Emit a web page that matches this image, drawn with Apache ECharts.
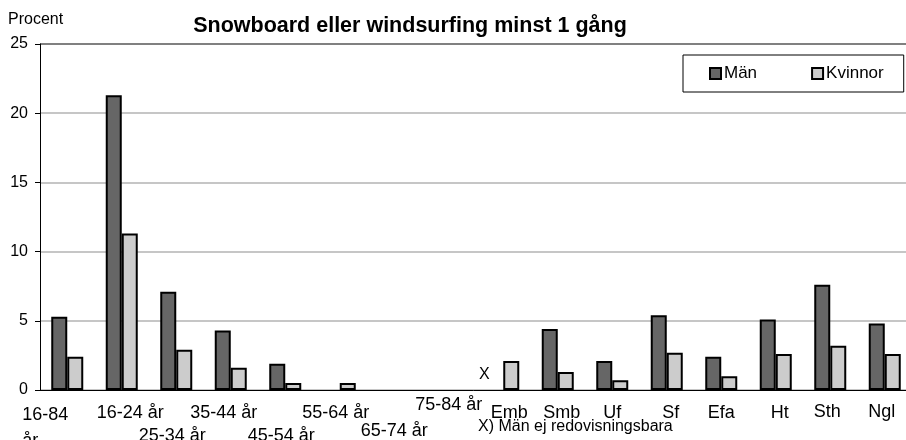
<!DOCTYPE html>
<html><head><meta charset="utf-8">
<script src="https://cdn.jsdelivr.net/npm/echarts@6/dist/echarts.min.js"></script>
<style>html,body{margin:0;padding:0;background:#fff}#c{width:906px;height:440px}</style>
</head><body><div id="c"></div>
<script>
const categories = ['16-84 år','16-24 år','25-34 år','35-44 år','45-54 år','55-64 år','65-74 år','75-84 år','Emb','Smb','Uf','Sf','Efa','Ht','Sth','Ngl'];
const man =     [5.3, 21.3, 7.1, 4.3, 1.9, null, null, null, null, 4.4, 2.1, 5.4, 2.4, 5.1, 7.6, 4.8];
const kvinnor = [2.4, 11.3, 2.9, 1.6, 0.5, 0.5, null, null, 2.1, 1.3, 0.7, 2.7, 1.0, 2.6, 3.2, 2.6];
const notReported = ['Emb'];
const yTicks = [0, 5, 10, 15, 20, 25];
const seriesNames = ['Män', 'Kvinnor'];
const titleText = 'Snowboard eller windsurfing minst 1 gång';
const yUnit = 'Procent';
const footnote = 'X) Män ej redovisningsbara';

const FONT = "'Liberation Sans', Arial, sans-serif";
const rowStyle = ['first','r1a','r2','r1b','r2','r1c','r3','r0','r1e','r1r','r1','r1r','r1','r1r','r1l','r1l'];

const chart = echarts.init(document.getElementById('c'), null, {renderer: 'canvas'});
const manData = categories.map((c, i) => {
  if (notReported.includes(c)) {
    return {value: 0, itemStyle: {color: 'rgba(0,0,0,0)', borderWidth: 0},
      label: {show: true, formatter: 'X', position: 'top', distance: 5, offset: [-11, -2],
        fontSize: 16, fontFamily: FONT, color: '#000'}};
  }
  return man[i] == null ? '-' : man[i];
});
const kvData = kvinnor.map(v => v == null ? '-' : v);

const base = {fontSize: 18, fontFamily: FONT, color: '#000', lineHeight: 20};
const st = (p) => Object.assign({}, base, {padding: p});

chart.setOption({
  animation: false,
  backgroundColor: '#fff',
  title: {text: titleText, left: 405, textAlign: 'center', top: 10,
    textStyle: {fontFamily: FONT, fontSize: 21.5, fontWeight: 'bold', color: '#000'}},
  graphic: [
    {type: 'text', left: 8, top: 12, style: {text: yUnit, font: '16px ' + FONT, fill: '#000'}},
    {type: 'text', left: 478, top: 419, style: {text: footnote, font: '16px ' + FONT, fill: '#000'}}
  ],
  legend: {
    data: seriesNames, left: 683, top: 55, orient: 'horizontal',
    padding: [10, 20, 10, 26], itemGap: 54, borderColor: '#000', borderWidth: 1,
    icon: 'rect', itemWidth: 11, itemHeight: 11,
    itemStyle: {borderColor: '#000', borderWidth: 2},
    textStyle: {fontFamily: FONT, fontSize: 17, color: '#000', padding: [0, 0, 0, -2]}
  },
  grid: {left: 40, top: 44, width: 872, height: 346, containLabel: false, outerBoundsMode: 'none'},
  xAxis: {
    type: 'category', data: categories,
    axisLine: {lineStyle: {color: '#000', width: 1}},
    axisTick: {show: false},
    axisLabel: {
      interval: 0, margin: 4, color: '#000', fontFamily: FONT, fontSize: 18,
      formatter: (v, i) => {
        const s = rowStyle[i];
        if (s === 'first') {
          const parts = v.split(' ');
          return '{first|' + parts[0] + '}\n{second|' + parts[1] + '}';
        }
        return '{' + s + '|' + v + '}';
      },
      rich: {
        r0: st([2, 0, 0, 0]),
        r1: st([18, 0, 0, 0]),
        r1a: st([18, 0, 0, 17]),
        r1b: st([18, 14, 0, 0]),
        r1c: st([18, 8, 0, 0]),
        r1e: st([18, 0, 0, 12]),
        r1r: st([18, 0, 0, 8]),
        r1l: st([16, 6, 0, 0]),
        r2: st([64, 8, 0, 0]),
        r3: st([54, 0, 0, 0]),
        first: st([22, 44, 0, 0]),
        second: st([34, 74, 0, 0])
      }
    }
  },
  yAxis: {
    type: 'value', min: yTicks[0], max: yTicks[yTicks.length - 1], interval: yTicks[1] - yTicks[0],
    axisLine: {show: true, lineStyle: {color: '#000', width: 1}},
    axisTick: {show: true, length: 5, lineStyle: {color: '#000'}},
    axisLabel: {margin: 12, color: '#000', fontFamily: FONT, fontSize: 16},
    splitLine: {show: true, lineStyle: {color: ['#c6c6c6','#c6c6c6','#c6c6c6','#c6c6c6','#c6c6c6','#808080'], width: 2}}
  },
  series: [
    {name: seriesNames[0], type: 'bar', data: manData, barWidth: 16, barGap: '0%',
      itemStyle: {color: '#666666', borderColor: '#000', borderWidth: 2}},
    {name: seriesNames[1], type: 'bar', data: kvData, barWidth: 16, barGap: '0%',
      itemStyle: {color: '#cccccc', borderColor: '#000', borderWidth: 2}}
  ]
});
</script></body></html>
